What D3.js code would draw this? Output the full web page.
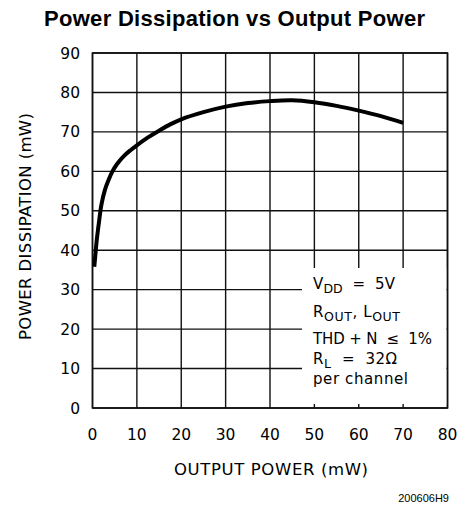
<!DOCTYPE html>
<html><head><meta charset="utf-8">
<script src="https://cdn.jsdelivr.net/npm/d3@7"></script>
<style>body{margin:0;background:#fff;} text{fill:#000;}</style>
</head><body>
<svg id="c" width="463" height="508"></svg>
<script>
const outputPower = [0.4, 0.7, 1.0, 1.5, 2.0, 2.8, 3.5, 4.5, 5.5, 7, 8.5, 10, 12.5, 15, 17.5, 20, 25, 30, 35, 40, 45, 50, 55, 60, 65, 70];
const dissipation = [35.8, 39.5, 43, 47.5, 51.5, 55.3, 57.5, 60, 61.8, 63.8, 65.3, 66.6, 68.6, 70.3, 71.9, 73.2, 75, 76.4, 77.3, 77.8, 78, 77.5, 76.6, 75.4, 74, 72.3];
const xTicks = [0, 10, 20, 30, 40, 50, 60, 70, 80];
const yTicks = [0, 10, 20, 30, 40, 50, 60, 70, 80, 90];
const title = "Power Dissipation vs Output Power";
const xTitle = "OUTPUT POWER (mW)";
const yTitle = "POWER DISSIPATION (mW)";
const noteLines = [
  [["V", ""], ["DD", "sub"], ["  =  5V", ""]],
  [["R", ""], ["OUT", "sub"], [", L", ""], ["OUT", "sub"]],
  [["THD + N  \u2264  1%", ""]],
  [["R", ""], ["L", "sub"], ["  =  32\u03A9", ""]],
  [["per channel", ""]]
];
const figId = "200606H9";

const svg = d3.select("#c");
const x = d3.scaleLinear().domain([0, 80]).range([92.5, 447.5]);
const y = d3.scaleLinear().domain([0, 90]).range([408, 53]);
const font = "'DejaVu Sans', sans-serif";

// grid
const g = svg.append("g");
g.selectAll("line.v").data(xTicks).join("line")
  .attr("x1", d => x(d)).attr("x2", d => x(d))
  .attr("y1", y(0)).attr("y2", y(90))
  .attr("stroke", "#111").attr("stroke-width", 1.4);
g.selectAll("line.h").data(yTicks).join("line")
  .attr("y1", d => y(d)).attr("y2", d => y(d))
  .attr("x1", x(0)).attr("x2", x(80))
  .attr("stroke", "#111").attr("stroke-width", 1.4);

// note box covering grid
const box = {x0: 302, x1: x(80) - 1, y0: 268, y1: y(0) - 4};
svg.append("rect").attr("x", box.x0).attr("y", box.y0)
  .attr("width", box.x1 - box.x0).attr("height", box.y1 - box.y0).attr("fill", "#fff");

// frame
svg.append("rect").attr("x", x(0)).attr("y", y(90))
  .attr("width", x(80) - x(0)).attr("height", y(0) - y(90))
  .attr("fill", "none").attr("stroke", "#111").attr("stroke-width", 1.6);

// curve
const line = d3.line().x((d, i) => x(outputPower[i])).y(d => y(d)).curve(d3.curveCatmullRom.alpha(0.5));
svg.append("path").attr("d", line(dissipation)).attr("fill", "none")
  .attr("stroke", "#000").attr("stroke-width", 4).attr("stroke-linecap", "butt");

// tick labels
svg.selectAll("text.yt").data(yTicks).join("text")
  .attr("x", 80).attr("y", d => y(d) + 5.5).attr("text-anchor", "end")
  .attr("font-family", font).attr("font-size", 15.5).text(d => d);
svg.selectAll("text.xt").data(xTicks).join("text")
  .attr("x", d => x(d)).attr("y", 440).attr("text-anchor", "middle")
  .attr("font-family", font).attr("font-size", 15.5).text(d => d);

// axis titles
svg.append("text").attr("x", 271).attr("y", 475).attr("text-anchor", "middle")
  .attr("font-family", font).attr("font-size", 16.5)
  .attr("textLength", 194).attr("lengthAdjust", "spacing").text(xTitle);
svg.append("text").attr("transform", "translate(31,226.5) rotate(-90)").attr("text-anchor", "middle")
  .attr("font-family", font).attr("font-size", 16.5)
  .attr("textLength", 227).attr("lengthAdjust", "spacing").text(yTitle);

// title
svg.append("text").attr("x", 234.5).attr("y", 26).attr("text-anchor", "middle")
  .attr("font-family", "'Liberation Sans', Arial, sans-serif").attr("font-weight", "bold")
  .attr("font-size", 22).attr("textLength", 381).attr("lengthAdjust", "spacing").text(title);

// note text
const baselines = [288.7, 317, 343.7, 363.7, 383.7];
const targetW = [82, 87, 119, 84, 95];
noteLines.forEach((parts, i) => {
  const t = svg.append("text").attr("x", 313).attr("y", baselines[i])
    .attr("font-family", font).attr("font-size", 15).style("white-space", "pre");
  let shift = 0, nChars = 0;
  parts.forEach(([s, kind]) => {
    const ts = t.append("tspan").text(s);
    nChars += s.length;
    if (kind === "sub") {
      ts.attr("font-size", 12.5).attr("dy", shift === 0 ? 4 : 0);
      shift = 4;
    } else if (shift) {
      ts.attr("dy", -shift); shift = 0;
    }
  });
  const w = t.node().getComputedTextLength();
  const ls = (targetW[i] - w) / Math.max(1, nChars - 1);
  t.attr("letter-spacing", ls.toFixed(2));
});

// figure id
svg.append("text").attr("x", 449).attr("y", 502).attr("text-anchor", "end")
  .attr("font-family", "'Liberation Sans', Arial, sans-serif").attr("font-size", 11).text(figId);
</script>
</body></html>
